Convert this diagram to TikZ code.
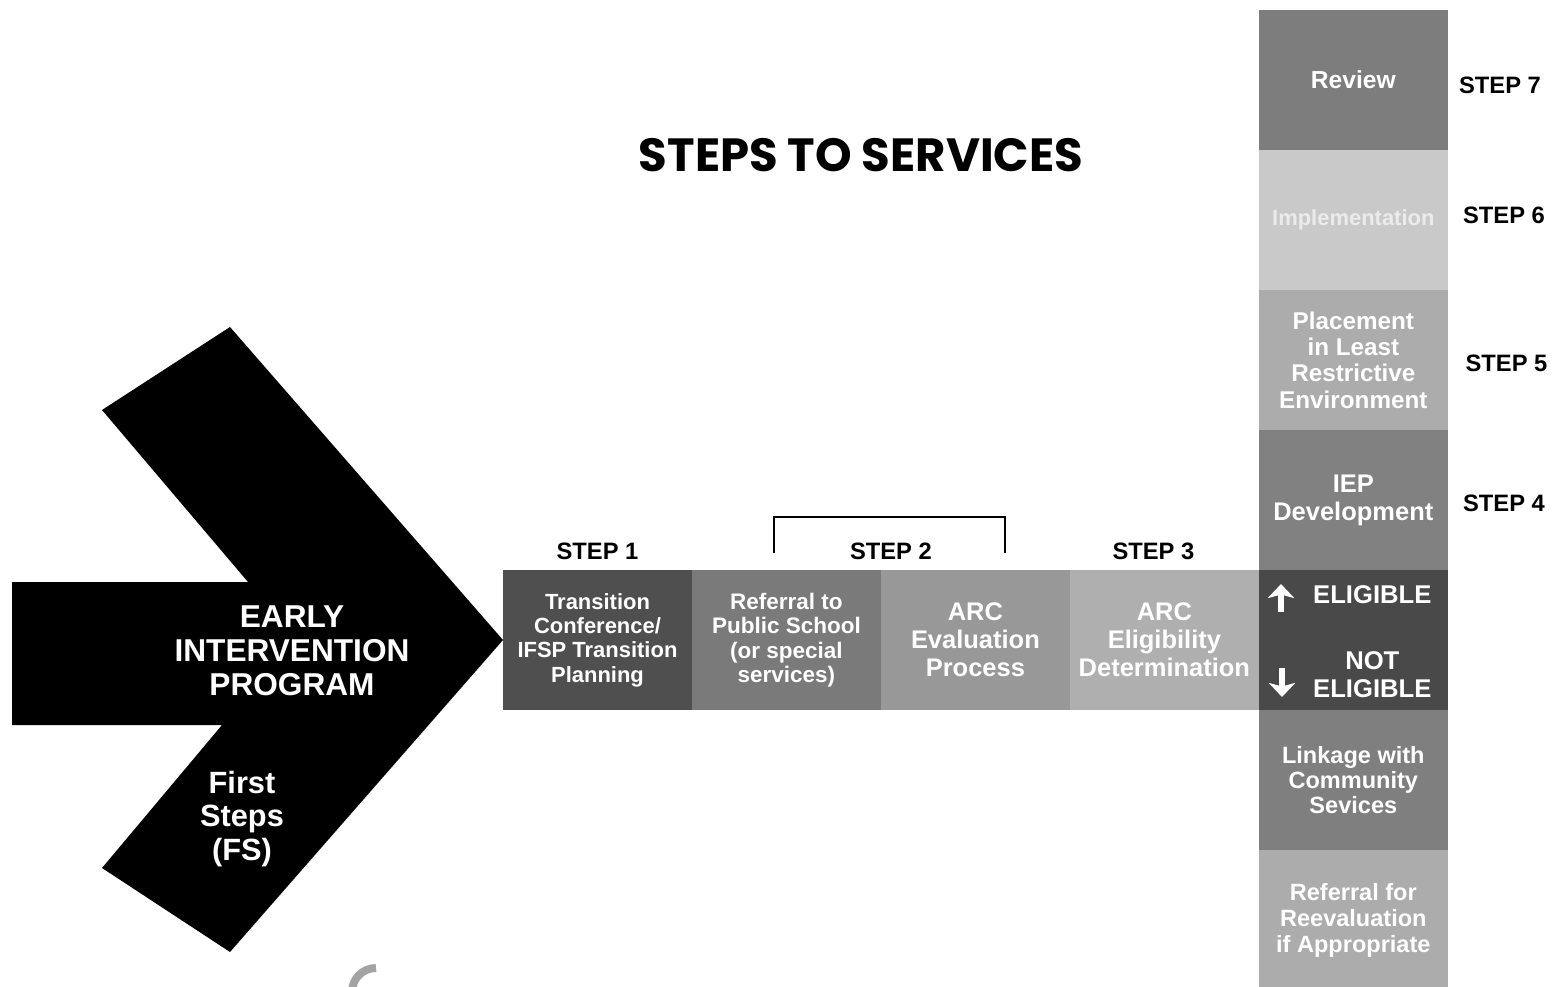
\documentclass[tikz,border=0pt]{standalone}
\usepackage{fontspec}
\setmainfont{Liberation Sans}
\newfontfamily\titlefont{Poppins}
\definecolor{rowA}{HTML}{4F4F4F}
\definecolor{rowB}{HTML}{7A7A7A}
\definecolor{rowC}{HTML}{989898}
\definecolor{rowD}{HTML}{AFAFAF}
\definecolor{colReview}{HTML}{7D7D7D}
\definecolor{colImpl}{HTML}{C9C9C9}
\definecolor{colPlace}{HTML}{ACACAC}
\definecolor{colIep}{HTML}{818181}
\definecolor{colElig}{HTML}{494949}
\definecolor{colLink}{HTML}{7F7F7F}
\definecolor{colReeval}{HTML}{ACACAC}
\definecolor{arcgrey}{HTML}{A3A3A3}
\usetikzlibrary{positioning,arrows.meta,calc}
\newcommand{\fsz}[2]{\fontsize{#1}{#2}\selectfont}

\begin{document}
\begin{tikzpicture}[x=0.02cm,y=-0.02cm,
      every node/.style={align=center,text=white,font=\bfseries},
      cell/.style={minimum width=3.78cm,minimum height=2.8cm,inner sep=1pt,outer sep=0pt},
      steplabel/.style={text=black,inner sep=0pt,font=\bfseries\fsz{13.5}{16}},
      sign/.style={white,line width=3.4pt,-{Stealth[length=8pt,width=15pt,inset=2pt]}}]
    \useasboundingbox (0,0) rectangle (1553,987);
    % big chevron
    \fill[black] (12,582) -- (248,582) -- (102,410) -- (230,327) -- (503,640)
      -- (230,952) -- (102,868) -- (222,725) -- (12,725) -- cycle;
    \node[font=\bfseries\fsz{18}{19.3}] (eip) at (292,651) {EARLY\\INTERVENTION\\PROGRAM};
    \node[font=\bfseries\fsz{17.5}{19.3}] (fs) at (242,819) {First\\Steps\\(FS)};
    \node[text=black,font=\titlefont\bfseries\fsz{26.5}{32}] (title) at (861,155) {STEPS TO SERVICES};
    % steps 1 to 3
    \node[cell,fill=rowA,anchor=west,font=\bfseries\fsz{12.5}{13.8}] (conf) at (503,640)
      {Transition\\Conference/\\IFSP Transition\\Planning};
    \node[cell,fill=rowB,right=0pt of conf,font=\bfseries\fsz{12.8}{13.9}] (refer)
      {Referral to\\Public School\\(or special\\services)};
    \node[cell,fill=rowC,right=0pt of refer,font=\bfseries\fsz{14.5}{15.9}] (arceval) {ARC\\Evaluation\\Process};
    \node[cell,fill=rowD,right=0pt of arceval,font=\bfseries\fsz{14.5}{15.9}] (arcelig) {ARC\\Eligibility\\Determination};
    % column, steps 4 to 7
    \node[cell,fill=colElig,right=0pt of arcelig] (elig) {};
    \node[cell,fill=colIep,above=0pt of elig,font=\bfseries\fsz{14.5}{15.9}] (iep) {IEP\\Development};
    \node[cell,fill=colPlace,above=0pt of iep,font=\bfseries\fsz{13.8}{15}] (place)
      {Placement\\in Least\\Restrictive\\Environment};
    \node[cell,fill=colImpl,above=0pt of place,text=white!92!black,font=\bfseries\fsz{12.5}{15}] (impl) {Implementation};
    \node[cell,fill=colReview,above=0pt of impl,font=\bfseries\fsz{14}{16}] (review) {Review};
    \node[cell,fill=colLink,below=0pt of elig,font=\bfseries\fsz{13.4}{14.2}] (link)
      {Linkage with\\Community\\Sevices};
    \node[cell,fill=colReeval,below=0pt of link,font=\bfseries\fsz{13.4}{14.8}] (reeval)
      {Referral for\\Reevaluation\\if Appropriate};
    % eligibility split
    \node[font=\bfseries\fsz{14.6}{16}] (yes) at ([shift={(19,-45)}]elig.center) {ELIGIBLE};
    \node[font=\bfseries\fsz{14.6}{16}] (no) at ([shift={(19,35)}]elig.center) {NOT\\ELIGIBLE};
    \coordinate (upfoot) at (1281,612);
    \coordinate (uphead) at (1281,584);
    \coordinate (dnfoot) at (1282,668);
    \coordinate (dnhead) at (1282,697);
    \draw[sign] (upfoot) -- (uphead);
    \draw[sign] (dnfoot) -- (dnhead);
    % step labels
    \node[steplabel,above=2mm of conf] (s1) {STEP 1};
    \node[steplabel,above=2mm of refer.north east,xshift=2mm] (s2) {STEP 2};
    \node[steplabel,above=2mm of arcelig,xshift=-2.2mm] (s3) {STEP 3};
    \node[steplabel,right=3mm of iep,yshift=-0.6mm] (s4) {STEP 4};
    \node[steplabel,right=3.5mm of place,yshift=-0.6mm] (s5) {STEP 5};
    \node[steplabel,right=3mm of impl,yshift=1mm] (s6) {STEP 6};
    \node[steplabel,right=2.2mm of review,yshift=-1mm] (s7) {STEP 7};
    % bracket over step 2
    \coordinate (brl) at (774,553);
    \coordinate (brr) at (1005,553);
    \draw[line width=1.3pt] (brl) -- ++(0,-36) -| (brr);
    % stray arc
    \draw[arcgrey,line width=4.5pt] (352,992) arc[start angle=180,end angle=270,radius=24];
\end{tikzpicture}
\end{document}
